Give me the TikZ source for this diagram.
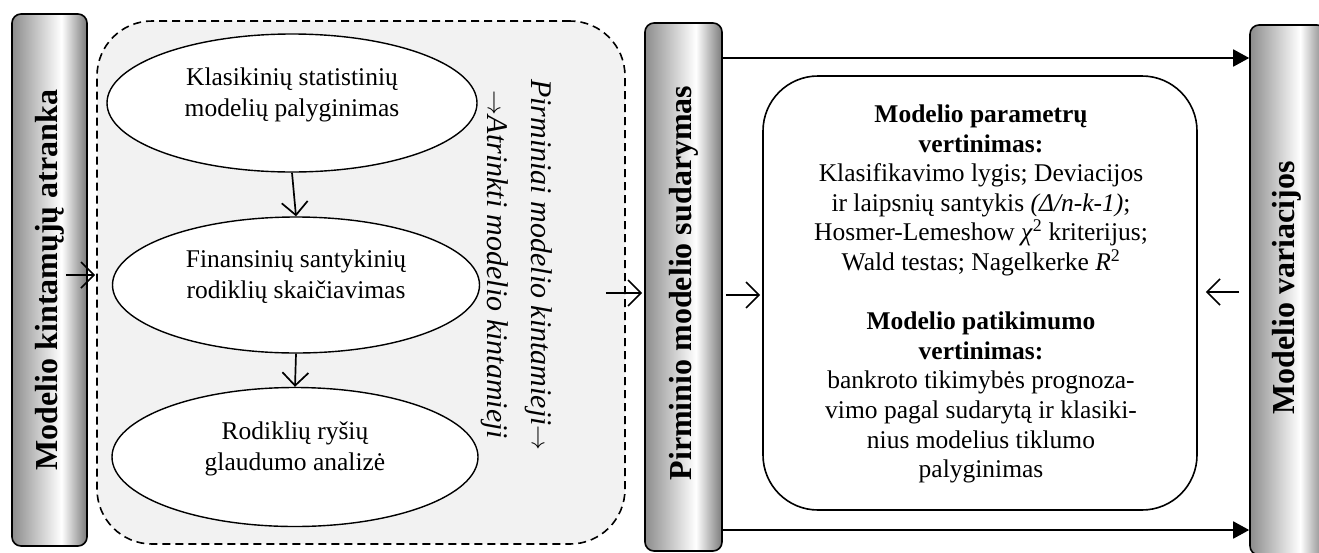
\documentclass[tikz,border=0pt]{standalone}
\usepackage{fontspec}
\setmainfont{Liberation Serif}
\usetikzlibrary{arrows.meta,shapes.geometric,calc}
\pgfdeclarehorizontalshading{barshade}{100bp}{color(0bp)=(black!45); color(25bp)=(black!45); color(58bp)=(white); color(75bp)=(black!52); color(100bp)=(black!52)}
\tikzset{
  barbox/.style={draw=black, line width=1.6pt, rounded corners=9pt, shading=barshade},
  bartext/.style={font=\bfseries\fontsize{32}{36}\selectfont, rotate=90},
  oval/.style={ellipse, draw=black, fill=white, line width=1.4pt},
  ovaltext/.style={font=\fontsize{25.5}{31}\selectfont, align=center},
  openarr/.style={line width=1.7pt, -{Straight Barb[length=13pt,width=26pt,line width=1.7pt]}},
  fillarr/.style={line width=1.8pt, -{Triangle[length=16pt,width=17pt]}},
}
\begin{document}
\begin{tikzpicture}[x=1pt,y=-1pt]
\useasboundingbox (0,0) rectangle (1319,552);
\clip (0,0) rectangle (1319,552);
\fill[white] (0,0) rectangle (1319,552);

% left bar
\node[barbox, minimum width=75pt, minimum height=532pt] (lbar) at (49.5,280) {};
\node[bartext] (lbart) at (lbar.center) {Modelio kintamųjų atranka};

% dashed container
\node[draw=black, line width=1.6pt, dash pattern=on 8pt off 5pt, rounded corners=55pt, fill=black!5,
      minimum width=528pt, minimum height=523pt] (cont) at (361,282.5) {};

% ellipses
\node[oval, minimum width=370pt, minimum height=138pt] (e1) at (292,103) {};
\node[ovaltext] (e1t) at (292,95) {Klasikinių statistinių\\modelių palyginimas};
\node[oval, minimum width=367pt, minimum height=136pt] (e2) at (296,285) {};
\node[ovaltext] (e2t) at (296,277) {Finansinių santykinių\\rodiklių skaičiavimas};
\node[oval, minimum width=366pt, minimum height=139pt] (e3) at (295,457) {};
\node[ovaltext] (e3t) at (295,449) {Rodiklių ryšių\\glaudumo analizė};

\draw[openarr] (e1.south) -- (e2.north);
\draw[openarr] (e2.south) -- (e3.north);

% rotated italic text
\node[rotate=-90, font=\itshape\fontsize{30}{44}\selectfont, align=center] (flow) at (517,265)
  {Pirminiai modelio kintamieji$\rightarrow$\\$\rightarrow$Atrinkti modelio kintamieji};

% middle bar
\node[barbox, minimum width=77pt, minimum height=528pt] (pbar) at (683.5,287) {};
\node[bartext] (pbart) at (683.5,283) {Pirminio modelio sudarymas};

% right bar
\node[barbox, minimum width=76pt, minimum height=530pt] (rbar) at (1288,290) {};
\node[bartext] (rbart) at (1287,288) {Modelio variacijos};

% central box
\node[draw=black, line width=1.6pt, rounded corners=55pt, fill=white,
      minimum width=434pt, minimum height=434pt] (box) at (980,293) {};
\node[font=\fontsize{25.5}{29.6}\selectfont, align=center] (boxt) at (981,294)
  {\textbf{Modelio parametrų}\\
   \textbf{vertinimas:}\\
   Klasifikavimo lygis; Deviacijos\\
   ir laipsnių santykis \textit{(Δ/n-k-1)};\\
   Hosmer-Lemeshow \textit{χ}\textsuperscript{2} kriterijus;\\
   Wald testas; Nagelkerke \textit{R}\textsuperscript{2}\\[29.6pt]
   \textbf{Modelio patikimumo}\\
   \textbf{vertinimas:}\\
   bankroto tikimybės prognoza-\\
   vimo pagal sudarytą ir klasiki-\\
   nius modelius tiklumo\\
   palyginimas};

% connector levels
\coordinate (yA) at (0,275);
\coordinate (yB) at (0,293);
\coordinate (yC) at (0,295);
\coordinate (yD) at (0,292);
\coordinate (yT) at (0,58);
\coordinate (yL) at (0,530);

\draw[openarr] ($(lbar.east|-yA)+(-22,0)$) -- ($(cont.west|-yA)+(-1,0)$);
\draw[openarr] ($(cont.east|-yB)+(-20,0)$) -- ($(pbar.west|-yB)+(-2,0)$);
\draw[openarr] ($(pbar.east|-yC)+(3,0)$) -- ($(box.west|-yC)+(-2,0)$);
\draw[openarr] ($(rbar.west|-yD)+(-10,0)$) -- ($(box.east|-yD)+(8,0)$);
\draw[fillarr] (pbar.east|-yT) -- (rbar.west|-yT);
\draw[fillarr] (pbar.east|-yL) -- (rbar.west|-yL);
\end{tikzpicture}
\end{document}
